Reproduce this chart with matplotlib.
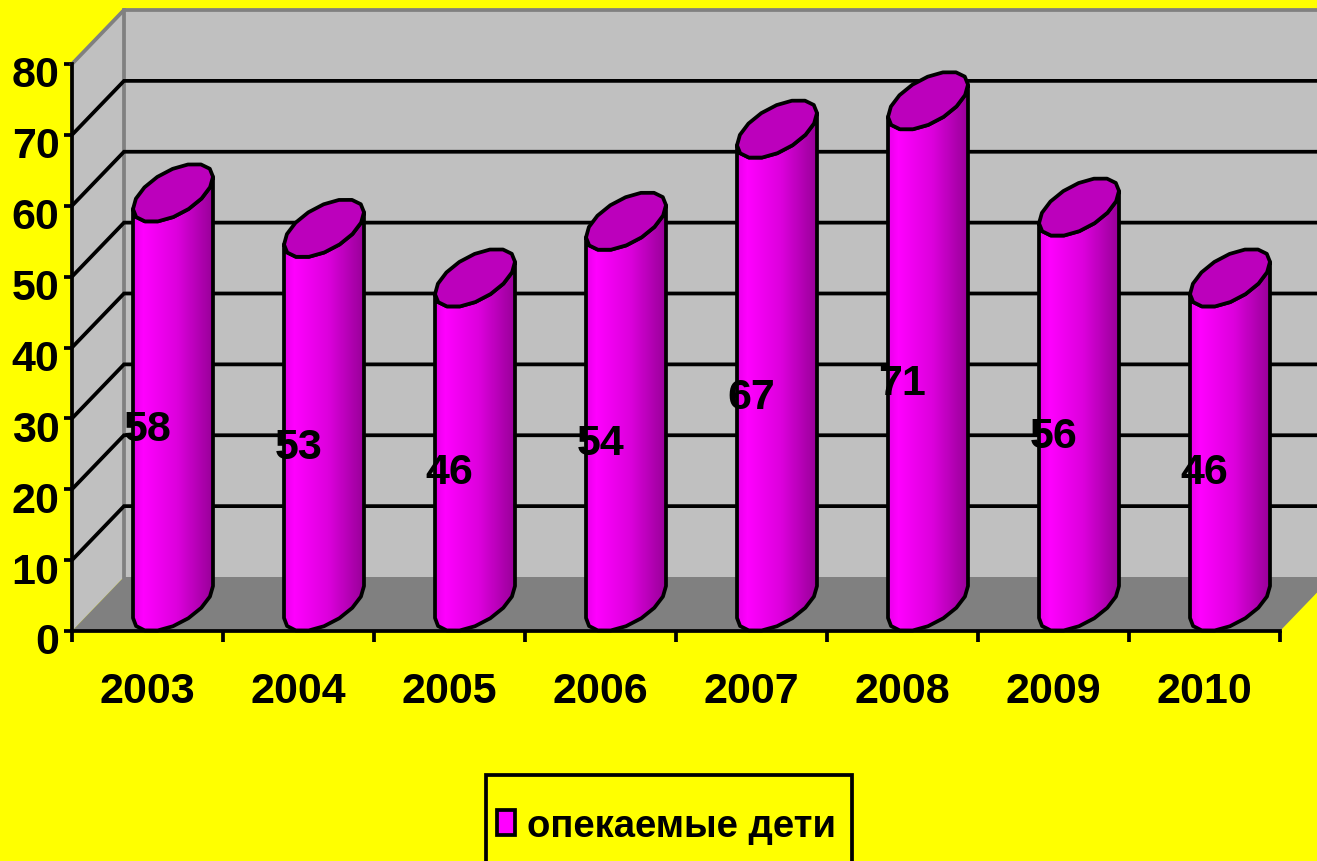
import numpy as np
import matplotlib
matplotlib.use("Agg")
import matplotlib.pyplot as plt
from matplotlib.patches import Polygon, Patch, Rectangle
from matplotlib.colors import LinearSegmentedColormap
from matplotlib.transforms import ScaledTranslation

years = ["2003", "2004", "2005", "2006", "2007", "2008", "2009", "2010"]
children = [58, 53, 46, 54, 67, 71, 56, 46]
y_ticks = [0, 10, 20, 30, 40, 50, 60, 70, 80]
series_name = "опекаемые дети"

W, H = 1317, 862
X0, X1, Y0, Y1 = 72, 1280, 632, 65
FONT = "Liberation Sans"
FS = 31

fig = plt.figure(figsize=(W / 100, H / 100), dpi=100, facecolor="#FFFF00")
ax = fig.add_axes([X0 / W, 1 - Y0 / H, (X1 - X0) / W, (Y0 - Y1) / H])
ax.patch.set_visible(False)

px_x = (X1 - X0) / len(years)
px_y = (Y0 - Y1) / y_ticks[-1]
DX = 52 / px_x
DY = 54 / px_y
LW = 2.7


def proj(x, v, d=0.0):
    return x + d * DX, v + d * DY


# walls and floor
nc, top = len(years), y_ticks[-1]
ax.add_patch(Polygon([proj(0, 0), proj(0, top), proj(0, top, 1), proj(0, 0, 1)],
                     fc="#C0C0C0", ec="none", clip_on=False, zorder=1))
ax.add_patch(Polygon([proj(0, 0, 1), proj(0, top, 1), proj(nc, top, 1), proj(nc, 0, 1)],
                     fc="#C0C0C0", ec="none", clip_on=False, zorder=1))
ax.add_patch(Polygon([proj(0, 0), proj(nc, 0), proj(nc, 0, 1), proj(0, 0, 1)],
                     fc="#808080", ec="none", clip_on=False, zorder=1))
edge = np.array([proj(0, top), proj(0, top, 1), proj(nc, top, 1)])
ax.plot(edge[:, 0], edge[:, 1], color="#808080", lw=LW, clip_on=False, zorder=2)
edge = np.array([proj(0, 0, 1), proj(0, top, 1)])
ax.plot(edge[:, 0], edge[:, 1], color="#808080", lw=LW, clip_on=False, zorder=2)

for v in y_ticks[1:-1]:
    g = np.array([proj(0, v), proj(0, v, 1), proj(nc, v, 1)])
    ax.plot(g[:, 0], g[:, 1], color="black", lw=LW, clip_on=False, zorder=2,
            solid_joinstyle="miter")

# cylinders: oblique circle, axes in pixel-based units
RX, BX, BY = 33.4 / px_x, 22 / px_x, 29 / px_y
CX_OFF, CY_OFF, CAP_OFF = 25.5 / px_x, 29 / px_y, 27 / px_y
t_r = np.arctan2(BX * px_x, RX * px_x)
cmap = LinearSegmentedColormap.from_list(
    "cyl", [(0, "#E800E8"), (0.13, "#FF00FF"), (0.55, "#DD00DD"), (1, "#980098")])
grad = np.linspace(0, 1, 256).reshape(1, -1)


def ring(cx, cy, t):
    return np.column_stack([cx + RX * np.cos(t) + BX * np.sin(t),
                            cy + BY * np.sin(t)])


half_w = np.hypot(RX, BX)
for i, v in enumerate(children):
    cx = i + 0.5 + CX_OFF
    t_low = np.linspace(t_r + np.pi, t_r + 2 * np.pi, 9)
    low = ring(cx, CY_OFF, t_low)
    up = ring(cx, CAP_OFF + v, t_low)
    outline = np.vstack([low, up[::-1]])
    ax.add_patch(Polygon(outline, closed=True, fc="none", ec="black",
                         lw=LW, zorder=4, clip_on=False, joinstyle="round"))
    im = ax.imshow(grad, cmap=cmap, aspect="auto", zorder=3,
                   extent=[cx - half_w, cx + half_w, 0, top])
    im.set_clip_path(Polygon(outline, closed=True, transform=ax.transData))
    cap = ring(cx, CAP_OFF + v, np.linspace(0, 2 * np.pi, 17)[:-1] + 0.2)
    ax.add_patch(Polygon(cap, closed=True, fc="#BC00BC", ec="black", lw=LW,
                         zorder=5, clip_on=False, joinstyle="round"))
    ax.text(i + 0.5, v / 2 - 0.5, str(v), ha="center", va="center", family=FONT,
            fontweight="bold", fontsize=FS, color="black", zorder=6)

ax.set_xlim(0, nc)
ax.set_ylim(0, top)
for s in ("top", "right"):
    ax.spines[s].set_visible(False)
for s in ("left", "bottom"):
    ax.spines[s].set_linewidth(LW)
    ax.spines[s].set_zorder(7)

ax.set_yticks(y_ticks)
ax.set_yticklabels([str(v) for v in y_ticks], family=FONT, fontweight="bold", fontsize=FS)
ax.tick_params(axis="y", length=6, width=LW, pad=3)
shift = ScaledTranslation(0, -5 / 72, fig.dpi_scale_trans)
for lab in ax.get_yticklabels():
    lab.set_transform(lab.get_transform() + shift)

ax.set_xticks(np.arange(nc + 1))
ax.set_xticklabels([])
ax.set_xticks(np.arange(nc) + 0.5, labels=years, minor=True, family=FONT,
              fontweight="bold", fontsize=FS)
ax.tick_params(axis="x", which="major", length=8, width=LW)
ax.tick_params(axis="x", which="minor", length=0, pad=29)

# legend
fig.add_artist(Rectangle((486 / W, 1 - 900 / H), 366 / W, 124 / H, fc="#FFFF00", ec="black",
                         lw=LW, transform=fig.transFigure))
leg = fig.legend(handles=[Patch(fc="#FF00FF", ec="black", lw=LW, label=series_name)],
                 loc="center left", bbox_to_anchor=(497 / W, 1 - 827 / H),
                 frameon=False, borderpad=0, borderaxespad=0,
                 handlelength=0.48, handleheight=0.66, handletextpad=0.3,
                 prop={"family": FONT, "weight": "bold", "size": 27.5})

fig.savefig("out.png", dpi=100, facecolor=fig.get_facecolor())
